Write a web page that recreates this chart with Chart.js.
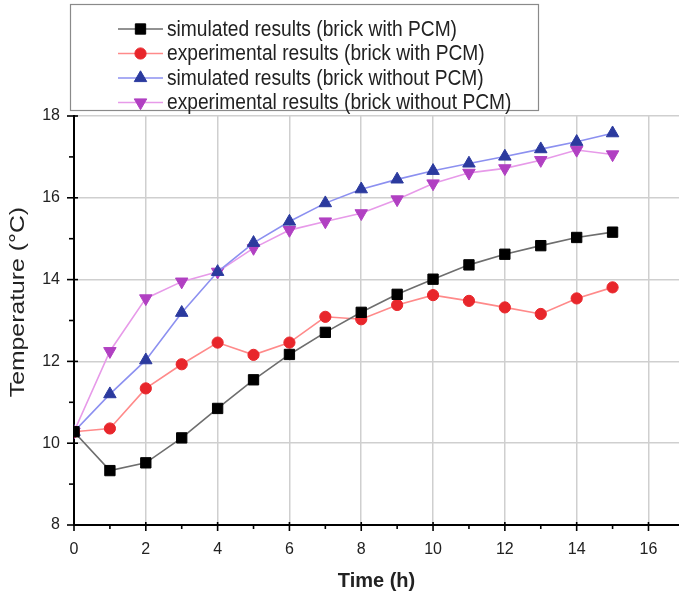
<!DOCTYPE html>
<html>
<head>
<meta charset="utf-8">
<script src="https://cdn.jsdelivr.net/npm/chart.js@4/dist/chart.umd.min.js"></script>
<style>
  html, body { margin: 0; padding: 0; background: #fff; }
  #wrap { width: 679px; height: 597px; }
</style>
</head>
<body>
<div id="wrap"><canvas id="c" width="679" height="597"></canvas></div>
<script>
// Time steps (h)
const hours = [0, 1, 2, 3, 4, 5, 6, 7, 8, 9, 10, 11, 12, 13, 14, 15];

// Temperature (°C) series
const simWithPCM = [10.28, 9.33, 9.52, 10.13, 10.85, 11.55, 12.17, 12.71, 13.2, 13.64, 14.01, 14.36, 14.62, 14.83, 15.03, 15.16];
const expWithPCM = [10.28, 10.36, 11.34, 11.93, 12.46, 12.16, 12.46, 13.09, 13.03, 13.38, 13.62, 13.48, 13.32, 13.16, 13.54, 13.81];
const simWithoutPCM = [10.28, 11.2, 12.03, 13.19, 14.19, 14.9, 15.42, 15.87, 16.21, 16.45, 16.66, 16.84, 17.01, 17.19, 17.37, 17.58];
const expWithoutPCM = [10.28, 12.25, 13.54, 13.95, 14.19, 14.77, 15.21, 15.42, 15.62, 15.96, 16.35, 16.61, 16.72, 16.92, 17.17, 17.06];

// Series names
const seriesLabels = [
  'simulated results (brick with PCM)',
  'experimental results (brick with PCM)',
  'simulated results (brick without PCM)',
  'experimental results (brick without PCM)'
];

// Axis titles
const xTitle = 'Time (h)';
const yTitle = 'Temperature (°C)';

// Axis ticks: labelled major ticks every 2, minor ticks in between
const xTickValues = [0, 1, 2, 3, 4, 5, 6, 7, 8, 9, 10, 11, 12, 13, 14, 15, 16];
const yTickValues = [8, 9, 10, 11, 12, 13, 14, 15, 16, 17, 18];

const FONT = "'Liberation Sans', Arial, sans-serif";
const GRID = '#cfcfcf';

function toPoints(ys) { return hours.map((h, i) => ({ x: h, y: ys[i] })); }

const styles = [
  { line: '#6e6e6e', mark: '#000000', shape: 'rect', r: 7.3, rot: 0 },
  { line: '#ff8a8a', mark: '#e8262b', shape: 'circle', r: 5.6, rot: 0 },
  { line: '#8c90f0', mark: '#2b3a9e', shape: 'triangle', r: 7.2, rot: 0 },
  { line: '#e79ae9', mark: '#b140c2', shape: 'triangle', r: 7.2, rot: 180 }
];
const values = [simWithPCM, expWithPCM, simWithoutPCM, expWithoutPCM];

const datasets = values.map((v, i) => ({
  label: seriesLabels[i],
  data: toPoints(v),
  borderColor: styles[i].line,
  borderWidth: 1.6,
  pointStyle: styles[i].shape,
  pointRotation: styles[i].rot,
  pointRadius: styles[i].r,
  pointHoverRadius: styles[i].r,
  pointBackgroundColor: styles[i].mark,
  pointBorderColor: styles[i].mark,
  pointBorderWidth: 1,
  tension: 0
}));

// Boxed legend, one entry per row, drawn above the plot
const boxedLegend = {
  id: 'boxedLegend',
  afterDraw(chart) {
    const ctx = chart.ctx;
    ctx.save();
    ctx.fillStyle = '#fff';
    ctx.strokeStyle = '#8a8a8a';
    ctx.lineWidth = 1.2;
    ctx.fillRect(70, 4, 468, 106);
    ctx.strokeRect(70.5, 4.5, 468, 106);
    ctx.font = '19.2px ' + FONT;
    ctx.textBaseline = 'middle';
    chart.data.datasets.forEach((ds, i) => {
      const y = 29 + i * 24.5;
      ctx.strokeStyle = ds.borderColor;
      ctx.lineWidth = 1.6;
      ctx.beginPath();
      ctx.moveTo(118, y);
      ctx.lineTo(163, y);
      ctx.stroke();
      ctx.fillStyle = ds.pointBackgroundColor;
      ctx.strokeStyle = ds.pointBorderColor;
      ctx.lineWidth = 1;
      Chart.helpers.drawPoint(ctx, { pointStyle: ds.pointStyle, rotation: ds.pointRotation, radius: ds.pointRadius, borderWidth: 1 }, 140.5, y);
      ctx.fillStyle = '#222';
      ctx.save();
      ctx.translate(167, y + 1);
      ctx.scale(1, 1.12);
      ctx.fillText(ds.label, 0, 0);
      ctx.restore();
    });
    ctx.restore();
  }
};

// Major ticks cross the axis line, minor ticks sit outside it; vertical axis title
const axisDecor = {
  id: 'axisDecor',
  afterDraw(chart) {
    const ctx = chart.ctx;
    const xs = chart.scales.x, ys = chart.scales.y;
    const ca = chart.chartArea;
    ctx.save();
    ctx.strokeStyle = '#000';
    ctx.lineWidth = 1.6;
    xs.ticks.forEach(t => {
      const px = xs.getPixelForValue(t.value);
      const major = t.value % 2 === 0;
      ctx.beginPath();
      ctx.moveTo(px, major ? ca.bottom - 3 : ca.bottom);
      ctx.lineTo(px, major ? ca.bottom + 6 : ca.bottom + 4);
      ctx.stroke();
    });
    ys.ticks.forEach(t => {
      const py = ys.getPixelForValue(t.value);
      const major = t.value % 2 === 0;
      ctx.beginPath();
      ctx.moveTo(major ? ca.left - 7 : ca.left - 5, py);
      ctx.lineTo(major ? ca.left + 4 : ca.left, py);
      ctx.stroke();
    });
    ctx.translate(18, ys.getPixelForValue(13.45));
    ctx.rotate(-Math.PI / 2);
    ctx.scale(1.18, 1);
    ctx.font = '21px ' + FONT;
    ctx.fillStyle = '#222';
    ctx.textAlign = 'center';
    ctx.textBaseline = 'middle';
    ctx.fillText(yTitle, 0, 0);
    ctx.restore();
  }
};

new Chart(document.getElementById('c'), {
  type: 'line',
  data: { datasets },
  options: {
    responsive: false,
    animation: false,
    events: [],
    layout: { autoPadding: false, padding: { top: 116, right: 0, left: 0, bottom: 0 } },
    plugins: { legend: { display: false }, tooltip: { enabled: false } },
    scales: {
      x: {
        type: 'linear',
        min: 0,
        max: 16.85,
        afterBuildTicks: s => { s.ticks = xTickValues.map(v => ({ value: v })); },
        afterFit: s => { s.height = 72; s.paddingRight = 0; s.paddingLeft = 0; },
        grid: {
          color: ctx => (ctx.tick && ctx.tick.value % 2 === 0 && ctx.tick.value !== 0) ? GRID : 'rgba(0,0,0,0)',
          lineWidth: 1.5,
          drawTicks: false
        },
        border: { color: '#000', width: 2 },
        ticks: {
          autoSkip: false,
          maxRotation: 0,
          padding: 15,
          color: '#222',
          font: { family: FONT, size: 16 },
          callback: v => (v % 2 === 0 ? String(v) : '')
        },
        title: {
          display: true,
          text: xTitle,
          color: '#222',
          font: { family: FONT, size: 20, weight: 'bold' },
          padding: { top: 4 }
        }
      },
      y: {
        type: 'linear',
        min: 8,
        max: 18,
        afterBuildTicks: s => { s.ticks = yTickValues.map(v => ({ value: v })); },
        afterFit: s => { s.width = 74; s.paddingTop = 0; s.paddingBottom = 0; },
        grid: {
          color: ctx => (ctx.tick && ctx.tick.value % 2 === 0 && ctx.tick.value !== 8) ? GRID : 'rgba(0,0,0,0)',
          lineWidth: 1.5,
          drawTicks: false
        },
        border: { color: '#000', width: 2 },
        ticks: {
          autoSkip: false,
          padding: 14,
          color: '#222',
          font: { family: FONT, size: 16 },
          callback: v => (v % 2 === 0 ? String(v) : '')
        },
        title: { display: false }
      }
    }
  },
  plugins: [boxedLegend, axisDecor]
});
</script>
</body>
</html>
